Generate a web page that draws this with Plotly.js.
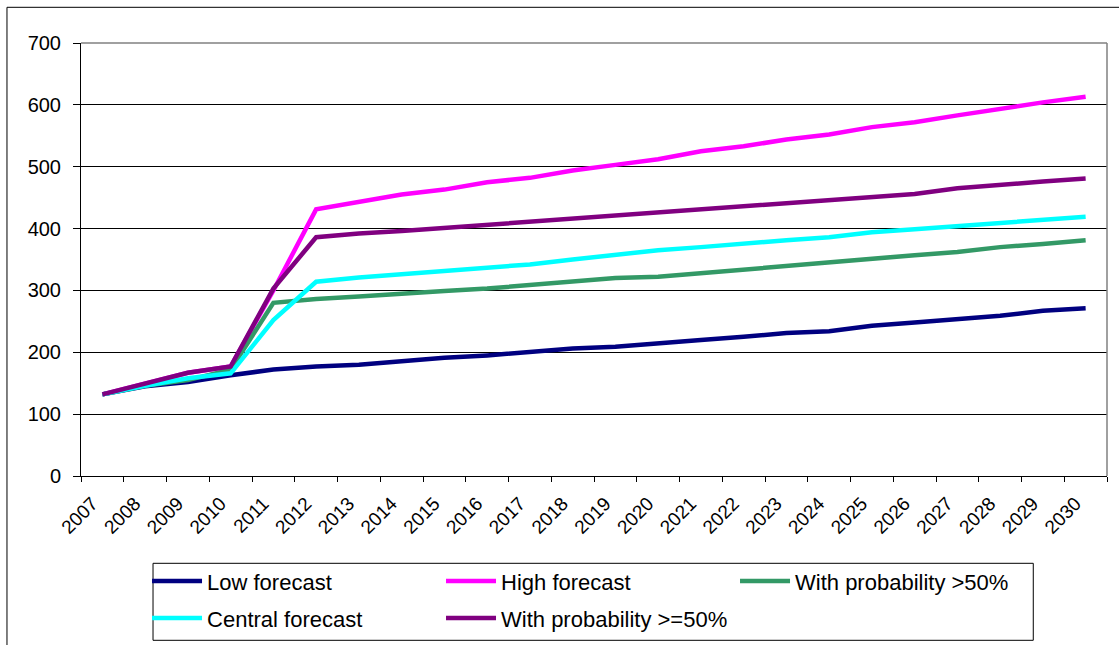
<!DOCTYPE html>
<html>
<head>
<meta charset="utf-8">
<script src="https://cdn.plot.ly/plotly-3.0.1.min.js"></script>
<style>
  html, body { margin: 0; padding: 0; background: #ffffff; }
  #chart { width: 1119px; height: 645px; }
</style>
</head>
<body>
<div id="chart"></div>
<script>
// Forecast years (category axis)
const years = ['2007','2008','2009','2010','2011','2012','2013','2014','2015','2016','2017','2018',
               '2019','2020','2021','2022','2023','2024','2025','2026','2027','2028','2029','2030'];

// Forecast series
const lowForecast     = [132, 145, 152, 163, 172, 177, 180, 186, 191, 195, 200, 206,
                         209, 215, 220, 225, 231, 234, 243, 248, 253, 259, 267, 271];
const highForecast    = [132, 149, 167, 177, 300, 431, 443, 455, 463, 475, 482, 494,
                         503, 512, 525, 533, 544, 552, 564, 572, 583, 594, 604, 613];
const probAbove50     = [132, 146, 155, 172, 280, 286, 290, 295, 299, 303, 309, 315,
                         320, 322, 328, 334, 340, 345, 351, 357, 362, 370, 375, 381];
const centralForecast = [132, 146, 158, 166, 252, 314, 321, 326, 331, 336, 342, 350,
                         357, 365, 370, 376, 381, 386, 394, 399, 404, 410, 414, 419];
const probAtLeast50   = [132, 149, 167, 177, 303, 386, 392, 396, 401, 406, 410, 415,
                         421, 425, 430, 435, 440, 446, 451, 456, 465, 471, 476, 481];

const seriesNames  = ['Low forecast', 'High forecast', 'With probability >50%',
                      'Central forecast', 'With probability >=50%'];
const seriesValues = [lowForecast, highForecast, probAbove50, centralForecast, probAtLeast50];
const seriesColors = ['#000080', '#FF00FF', '#339966', '#00FFFF', '#800080'];
// legend row for each series (two rows in a shared box)
const seriesLegend = ['legend', 'legend', 'legend', 'legend2', 'legend2'];

const FONT = 'Liberation Sans, Arial, sans-serif';

const traces = seriesNames.map((name, i) => ({
  type: 'scatter',
  mode: 'lines',
  name: name,
  legend: seriesLegend[i],
  x: years,
  y: seriesValues[i],
  line: { color: seriesColors[i], width: 4.5 },
  hoverinfo: 'skip'
}));

// Plot-area geometry in pixels
const W = 1119, H = 645;
const L = 81, R = 12.3, T = 42.7, B = 169.3;
const pw = W - L - R, ph = H - T - B;
const px = v => (v - L) / pw;          // pixel x -> paper x
const py = v => (H - B - v) / ph;      // pixel y -> paper y

const legendRow = yPix => ({
  orientation: 'h',
  x: px(147),
  y: py(yPix),
  xanchor: 'left',
  yanchor: 'middle',
  bgcolor: 'rgba(0,0,0,0)',
  borderwidth: 0,
  itemwidth: 50,
  entrywidth: 229,
  entrywidthmode: 'pixels',
  traceorder: 'normal',
  font: { family: FONT, size: 22, color: '#000000' }
});

const layout = {
  width: W,
  height: H,
  autosize: false,
  margin: { l: L, r: R, t: T, b: B, pad: 0, autoexpand: false },
  paper_bgcolor: '#ffffff',
  plot_bgcolor: '#ffffff',
  showlegend: true,
  font: { family: FONT, color: '#000000' },
  xaxis: {
    type: 'category',
    range: [-0.5, years.length - 0.5],
    tickson: 'boundaries',
    ticks: 'outside',
    ticklen: 5,
    tickwidth: 1,
    tickcolor: '#000000',
    tickangle: -45,
    tickfont: { family: FONT, size: 19, color: '#000000' },
    ticklabelstandoff: 8,
    ticklabelshift: -10,
    showgrid: false,
    showline: true,
    linecolor: '#000000',
    linewidth: 1,
    zeroline: false,
    fixedrange: true,
    automargin: false
  },
  yaxis: {
    range: [0, 700],
    tick0: 0,
    dtick: 100,
    ticks: 'outside',
    ticklen: 7,
    tickwidth: 1,
    tickcolor: '#000000',
    tickfont: { family: FONT, size: 20, color: '#000000' },
    ticklabelstandoff: 8,
    showgrid: true,
    gridcolor: '#000000',
    gridwidth: 1,
    showline: true,
    linecolor: '#000000',
    linewidth: 1,
    zeroline: false,
    fixedrange: true,
    automargin: false
  },
  legend: legendRow(581),
  legend2: legendRow(618),
  shapes: [
    // outer chart frame
    { type: 'rect', xref: 'paper', yref: 'paper', layer: 'below',
      x0: px(7), x1: px(1300), y0: py(800), y1: py(7),
      line: { color: '#000000', width: 1 }, fillcolor: 'rgba(0,0,0,0)' },
    // legend box
    { type: 'rect', xref: 'paper', yref: 'paper', layer: 'below',
      x0: px(153), x1: px(1033), y0: py(640), y1: py(563),
      line: { color: '#000000', width: 1 }, fillcolor: 'rgba(0,0,0,0)' },
    // plot-area border, top and right edges
    { type: 'line', xref: 'paper', yref: 'paper', x0: 0, x1: 1, y0: 1, y1: 1,
      line: { color: '#808080', width: 1.5 } },
    { type: 'line', xref: 'paper', yref: 'paper', x0: 1, x1: 1, y0: 0, y1: 1,
      line: { color: '#808080', width: 1.5 } }
  ]
};

Plotly.newPlot('chart', traces, layout, { staticPlot: true, displayModeBar: false });
</script>
</body>
</html>
